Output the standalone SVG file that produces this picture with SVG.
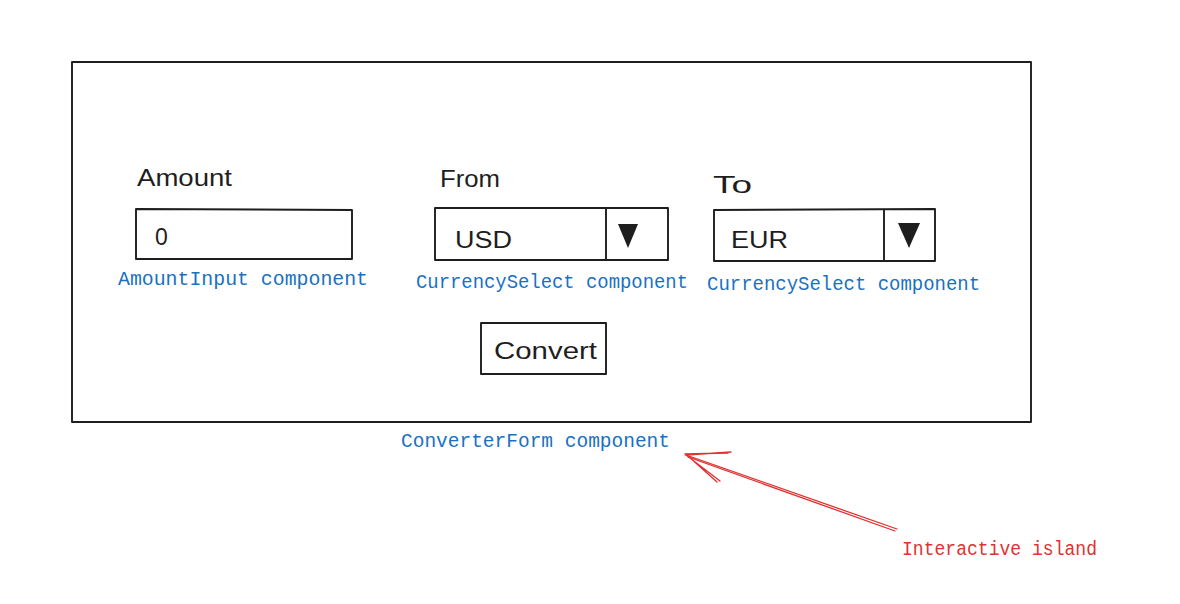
<svg xmlns="http://www.w3.org/2000/svg" width="1180" height="604" viewBox="0 0 1180 604">
<style>
.box{fill:none;stroke:#1e1e1e;stroke-width:1.9;stroke-linejoin:round}
.lbl{font-family:"Liberation Sans",Arial,sans-serif;fill:#1e1e1e;font-size:23px}
.val{font-family:"Liberation Sans",Arial,sans-serif;fill:#1e1e1e;font-size:23px}
.cmp{font-family:"Liberation Mono","DejaVu Sans Mono",monospace;fill:#1971c2;font-size:20px}
.red{font-family:"Liberation Mono","DejaVu Sans Mono",monospace;fill:#e03131;font-size:20px}
.arr{fill:none;stroke:#e03131;stroke-width:1.3;stroke-linecap:round}
</style>
<rect width="1180" height="604" fill="#ffffff"/>
<g id="converter-form">
<path class="box" d="M72 62 L1031 62 L1031 422 L72 422 Z"/>
<text class="cmp" x="401" y="447" textLength="269" lengthAdjust="spacingAndGlyphs">ConverterForm component</text>
</g>
<g id="amount-input">
<text class="lbl" x="137" y="186" textLength="95" lengthAdjust="spacingAndGlyphs">Amount</text>
<path class="box" d="M136 209 L352 210 L352 259 L136 259 Z"/>
<text class="val" x="155" y="245">0</text>
<text class="cmp" x="118" y="285" textLength="250" lengthAdjust="spacingAndGlyphs">AmountInput component</text>
</g>
<g id="from-select">
<text class="lbl" x="440" y="187" textLength="60" lengthAdjust="spacingAndGlyphs">From</text>
<path class="box" d="M435 208 L668 208 L668 260 L435 260 Z"/>
<path class="box" d="M606 208 L606 260"/>
<path d="M618 224 L638 224 L628 248 Z" fill="#1e1e1e"/>
<text class="val" x="455" y="248" textLength="57" lengthAdjust="spacingAndGlyphs">USD</text>
<text class="cmp" x="416" y="288" textLength="272" lengthAdjust="spacingAndGlyphs">CurrencySelect component</text>
</g>
<g id="to-select">
<text class="lbl" x="713" y="193" textLength="39" lengthAdjust="spacingAndGlyphs">To</text>
<path class="box" d="M714 210 L935 209 L935 261 L714 261 Z"/>
<path class="box" d="M884 209 L884 261"/>
<path d="M898 223 L920 223 L909 248 Z" fill="#1e1e1e"/>
<text class="val" x="731" y="248" textLength="57" lengthAdjust="spacingAndGlyphs">EUR</text>
<text class="cmp" x="707" y="290" textLength="273" lengthAdjust="spacingAndGlyphs">CurrencySelect component</text>
</g>
<g id="convert-button">
<path class="box" d="M481 323 L606 323 L606 374 L481 374 Z"/>
<text class="val" x="494" y="359" font-size="25" textLength="103" lengthAdjust="spacingAndGlyphs">Convert</text>
</g>
<g id="interactive-island">
<text class="red" x="902" y="555" textLength="195" lengthAdjust="spacingAndGlyphs">Interactive island</text>
</g>
<g id="connectors">
<path class="arr" d="M897 529 L686 455 M895 531 L688 457"/>
<path class="arr" d="M686 455 L731 452 M685 454 L728 453"/>
<path class="arr" d="M686 455 L720 481 M688 456 L717 482"/>
</g>
</svg>
